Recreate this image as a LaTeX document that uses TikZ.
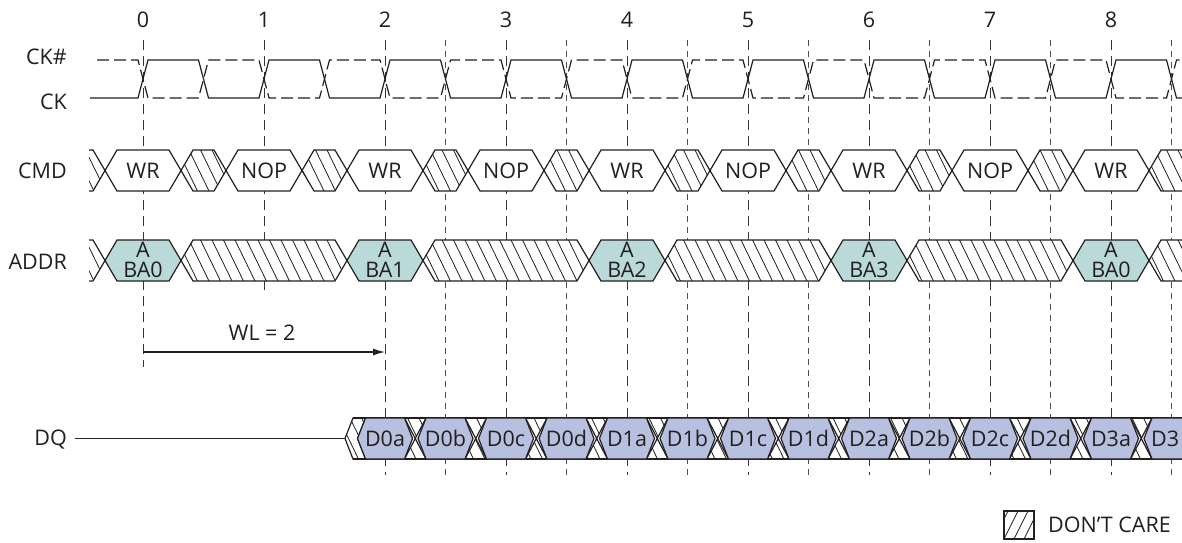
\documentclass[tikz,border=0pt]{standalone}
\usepackage{fontspec}
\setmainfont{Open Sans}
\usetikzlibrary{arrows.meta}
\definecolor{ink}{RGB}{35,31,32}
\definecolor{addrfill}{RGB}{186,218,217}
\definecolor{dqfill}{RGB}{184,192,224}
\newcommand\hexp[5]{(#1,{(#3+#4)/2}) -- ({#1+#5},#3) -- ({#2-#5},#3) -- (#2,{(#3+#4)/2}) -- ({#2-#5},#4) -- ({#1+#5},#4) -- cycle}
\newcommand\hatchlines[3]{%
  \pgfmathtruncatemacro\hA{(#1-30)/11.5-1}%
  \pgfmathtruncatemacro\hB{(#2)/11.5+1}%
  \foreach \n in {\hA,...,\hB}{\draw[hatchline] ({5+11.5*\n},#3) -- ++(20,41);}%
}
\newcommand\dcreg[5]{%
  \begin{scope}
    \clip \hexp{#1}{#2}{#3}{#4}{#5};
    \fill[white] (#1,#3) rectangle (#2,#4);
    \hatchlines{#1}{#2}{#3}
  \end{scope}
  \draw[busline] \hexp{#1}{#2}{#3}{#4}{#5};
}
\begin{document}
\begin{tikzpicture}[x=1pt,y=-1pt, font=\fontsize{21.5}{19.5}\selectfont,
  hatchline/.style={draw=ink, line width=0.8pt},
  busline/.style={draw=ink, line width=1.2pt, line join=miter},
  wave/.style={draw=ink, line width=1.2pt},
  wavedash/.style={draw=ink, line width=1.2pt, dash pattern=on 12pt off 5pt},
  tickline/.style={draw=ink!90, line width=1pt, dash pattern=on 10pt off 6pt},
  halfline/.style={draw=ink!80, line width=0.75pt, dash pattern=on 6pt off 5pt},
  lbl/.style={text=ink, inner sep=0pt}]
\clip (0,0) rectangle (1182,542);
\fill[white] (0,0) rectangle (1182,542);

% vertical timing lines
\foreach \k in {2,...,8} \draw[tickline] ({143+121*\k},40) -- ({143+121*\k},475);
\foreach \k in {2,...,8} \draw[halfline] ({203.5+121*\k},40) -- ({203.5+121*\k},475);
\draw[tickline] (143,40) -- (143,367);
\draw[tickline] (264,40) -- (264,290);

% clocks
\draw[wave] (90,98) \foreach \m in {0,...,17}{ -- ({138+60.5*\m},{79+19*cos(180*\m)}) -- ({148+60.5*\m},{79-19*cos(180*\m)}) } -- (1190,98);
\draw[wavedash] (97,60) \foreach \m in {0,...,17}{ -- ({138+60.5*\m},{79-19*cos(180*\m)}) -- ({148+60.5*\m},{79+19*cos(180*\m)}) } -- (1190,60);

% CMD bus
\begin{scope}
  \clip (89,0) rectangle (1182,542);
  \dcreg{60}{105}{150}{191}{12}
\end{scope}
\foreach \k in {0,...,7} { \dcreg{181+121*\k}{226+121*\k}{150}{191}{12} }
\dcreg{1149}{1240}{150}{191}{12}
\foreach \k/\t in {0/WR,1/NOP,2/WR,3/NOP,4/WR,5/NOP,6/WR,7/NOP,8/WR} {
  \draw[busline, fill=white] \hexp{105+121*\k}{181+121*\k}{150}{191}{12};
  \node[lbl] (cmd\k) at ({143+121*\k},170.5) {\t};
}

% ADDR bus
\begin{scope}
  \clip (89,0) rectangle (1182,542);
  \dcreg{60}{105}{240}{281}{12}
\end{scope}
\foreach \k in {0,2,4,6} { \dcreg{181+121*\k}{347+121*\k}{240}{281}{12} }
\dcreg{1149}{1240}{240}{281}{12}
\foreach \k/\b in {0/0,2/1,4/2,6/3,8/0} {
  \draw[busline, fill=addrfill] \hexp{105+121*\k}{181+121*\k}{240}{281}{12};
  \node[lbl, align=center] (addr\k) at ({143+121*\k},260) {A\\BA\b};
}

% DQ bus
\fill[white] (345,418) rectangle (1182,459);
\begin{scope}
  \clip (345,438.5) -- (353,418) -- (365.5,418) -- (357.5,438.5) -- (365.5,459) -- (353,459) -- cycle;
  \hatchlines{345}{366}{418}
\end{scope}
\draw[busline] (345,438.5) -- (353,418) -- (365.5,418) -- (357.5,438.5) -- (365.5,459) -- (353,459) -- cycle;
\foreach \j in {0,...,12} {
  \pgfmathsetmacro\c{385+60.5*\j}
  \begin{scope}
    \clip (\c+19.5,418) -- (\c+41,418) -- (\c+30.25,438.5) -- cycle
          (\c+19.5,459) -- (\c+41,459) -- (\c+30.25,438.5) -- cycle;
    \hatchlines{\c+19}{\c+42}{418}
  \end{scope}
  \draw[busline] (\c+19.5,418) -- (\c+41,459) (\c+19.5,459) -- (\c+41,418);
}
\draw[busline] (353,418) -- (1190,418) (353,459) -- (1190,459);
\foreach \j/\t in {0/D0a,1/D0b,2/D0c,3/D0d,4/D1a,5/D1b,6/D1c,7/D1d,8/D2a,9/D2b,10/D2c,11/D2d,12/D3a} {
  \pgfmathsetmacro\c{385+60.5*\j}
  \draw[busline, fill=dqfill] \hexp{\c-27.5}{\c+27.5}{418}{459}{8};
  \node[lbl] (dq\j) at (\c,438.5) {\t};
}
\draw[busline, fill=dqfill] \hexp{1144}{1199}{418}{459}{8};
\node[lbl, anchor=west] (dq13) at (1151,438.5) {D3};
\coordinate (dqS) at (75,438.5);
\coordinate (dqE) at (345,438.5);
\draw[wave] (dqS) -- (dqE);

% WL arrow
\coordinate (wlA) at (143,352);
\coordinate (wlB) at (385,352);
\draw[wave, -{Latex[length=12pt,width=7pt]}] (wlA) -- (wlB);
\node[lbl] (wl) at (262,333) {WL = 2};

% labels
\node[lbl, anchor=east] (lckn) at (67,57) {CK\#};
\node[lbl, anchor=east] (lck) at (67,102) {CK};
\node[lbl, anchor=east] (lcmd) at (67,170.5) {CMD};
\node[lbl, anchor=east] (laddr) at (67,262) {ADDR};
\node[lbl, anchor=east] (ldq) at (67,440) {DQ};
\foreach \k in {0,...,8} \node[lbl] (num\k) at ({143+121*\k},20) {\k};

% legend
\begin{scope}
  \clip (1004,511) rectangle (1034,539);
  \foreach \x in {994,1004,...,1044} \draw[hatchline] (\x,539) -- ++(14,-28);
\end{scope}
\draw[busline] (1004,511) rectangle (1034,539);
\node[lbl, anchor=west] (dc) at (1048,525) {DON’T CARE};
\end{tikzpicture}
\end{document}
